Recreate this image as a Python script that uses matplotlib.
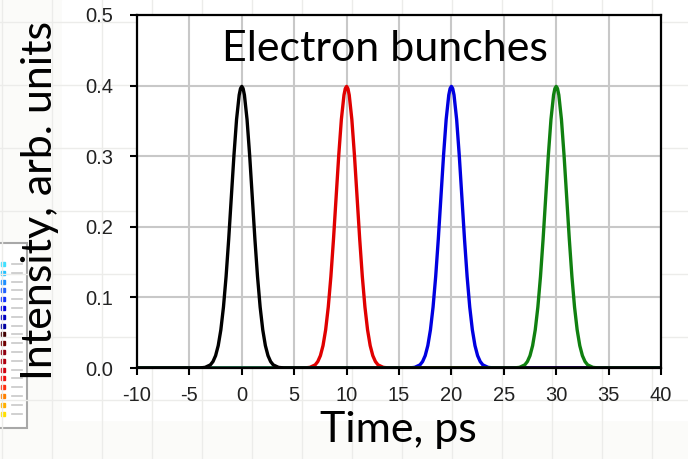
#electron bunch profiles vs time
import numpy as np
import matplotlib.pyplot as plt
from matplotlib.patches import Rectangle

plt.rcParams['axes.unicode_minus'] = False

# pulse centres, ps, and line colours (drawn in this order, black on top)
centers = [10, 20, 30, 0]
colors = ['#e00000', '#0000e0', '#108010', '#000000']

# one bunch profile: offset from centre (ps) and intensity
offsets = [-4.0, -3.5, -3.0, -2.75, -2.5, -2.25, -2.0, -1.75, -1.5, -1.25, -1.0,
           -0.75, -0.5, -0.25, -0.125, 0.0, 0.125, 0.25, 0.5, 0.75, 1.0, 1.25, 1.5,
           1.75, 2.0, 2.25, 2.5, 2.75, 3.0, 3.5, 4.0]
profile = [0.0001, 0.0009, 0.0044, 0.0091, 0.0175, 0.0317, 0.054, 0.0863, 0.1295,
           0.1826, 0.242, 0.3011, 0.3521, 0.3867, 0.3958, 0.3989, 0.3958, 0.3867,
           0.3521, 0.3011, 0.242, 0.1826, 0.1295, 0.0863, 0.054, 0.0317, 0.0175,
           0.0091, 0.0044, 0.0009, 0.0001]

t_start, t_end = -10, 40
xticks = [-10, -5, 0, 5, 10, 15, 20, 25, 30, 35, 40]
yticks = [0.0, 0.1, 0.2, 0.3, 0.4, 0.5]

# colours of the little legend stub on the left edge
stub_colors = ['#40e0ff', '#20c0ff', '#2090ff', '#2060ff', '#1030ff', '#0000e0',
               '#0000c0', '#0000a0', '#400000', '#700000', '#900010', '#b00010',
               '#d00010', '#f01010', '#ff3010', '#ff8000', '#ffb000', '#ffe000']

W, H = 688, 459
fig = plt.figure(figsize=(W/100, H/100), dpi=100)
fig.patch.set_facecolor('white')

# faint slide background (spreadsheet grid) showing round the edges
bg = fig.add_axes([0, 0, 1, 1], zorder=-5)
bg.set_xlim(0, W)
bg.set_ylim(H, 0)
bg.axis('off')
bg.add_patch(Rectangle((0, 0), W, H, color='#fbfbf9'))
for gx in range(2, W, 50):
    bg.axvline(gx, color='#ececea', lw=1)
for gy in range(22, H, 63):
    bg.axhline(gy, color='#ececea', lw=1)
bg.add_patch(Rectangle((62, 0), W, 420, color='white'))
# legend stub
bg.add_patch(Rectangle((-2, 243), 29, 185, facecolor='white', edgecolor='#a8a8a8', lw=1.5))
for i, c in enumerate(stub_colors):
    yy = 262 + i*8.8
    bg.add_patch(Rectangle((1, yy), 4, 4, color=c))
    bg.plot([12, 22], [yy + 2, yy + 2], color='#c8c8c8', lw=1.2)

ax = fig.add_axes([137/W, 1 - 368/H, (661 - 137)/W, (368 - 15)/H])
for c, col in zip(centers, colors):
    x = [t_start] + [c + o for o in offsets] + [t_end]
    y = [0] + profile + [0]
    ax.plot(x, y, color=col, lw=2.4, solid_joinstyle='round')

ax.set_xlim(t_start, t_end)
ax.set_ylim(0, 0.5)
ax.set_xticks(xticks)
ax.set_yticks(yticks)
ax.set_yticklabels(['{:.1f}'.format(v) for v in yticks])
ax.grid(True, color='#c8c8c8', lw=1.5)
ax.set_axisbelow(True)
for s in ax.spines.values():
    s.set_linewidth(1.6)
    s.set_color('black')
ax.tick_params(direction='out', length=5, width=1.5, color='black',
               labelsize=14.5)
ax.tick_params(axis='y', pad=12)
ax.tick_params(axis='x', pad=8)
for lab in ax.get_xticklabels() + ax.get_yticklabels():
    lab.set_family('Liberation Sans')
    lab.set_color('#222222')

ax.text(385/W, 1 - 30/H, 'Electron bunches', transform=fig.transFigure, ha='center', va='top',
        fontsize=31, family='Lato', color='black')
fig.text(398/W, 1 - 430/H, 'Time, ps', ha='center', va='center', fontsize=31, family='Lato')
fig.text(40/W, 1 - 200/H, 'Intensity, arb. units', ha='center', va='center',
         rotation=90, fontsize=31, family='Lato')

fig.savefig('out.png', dpi=100)
